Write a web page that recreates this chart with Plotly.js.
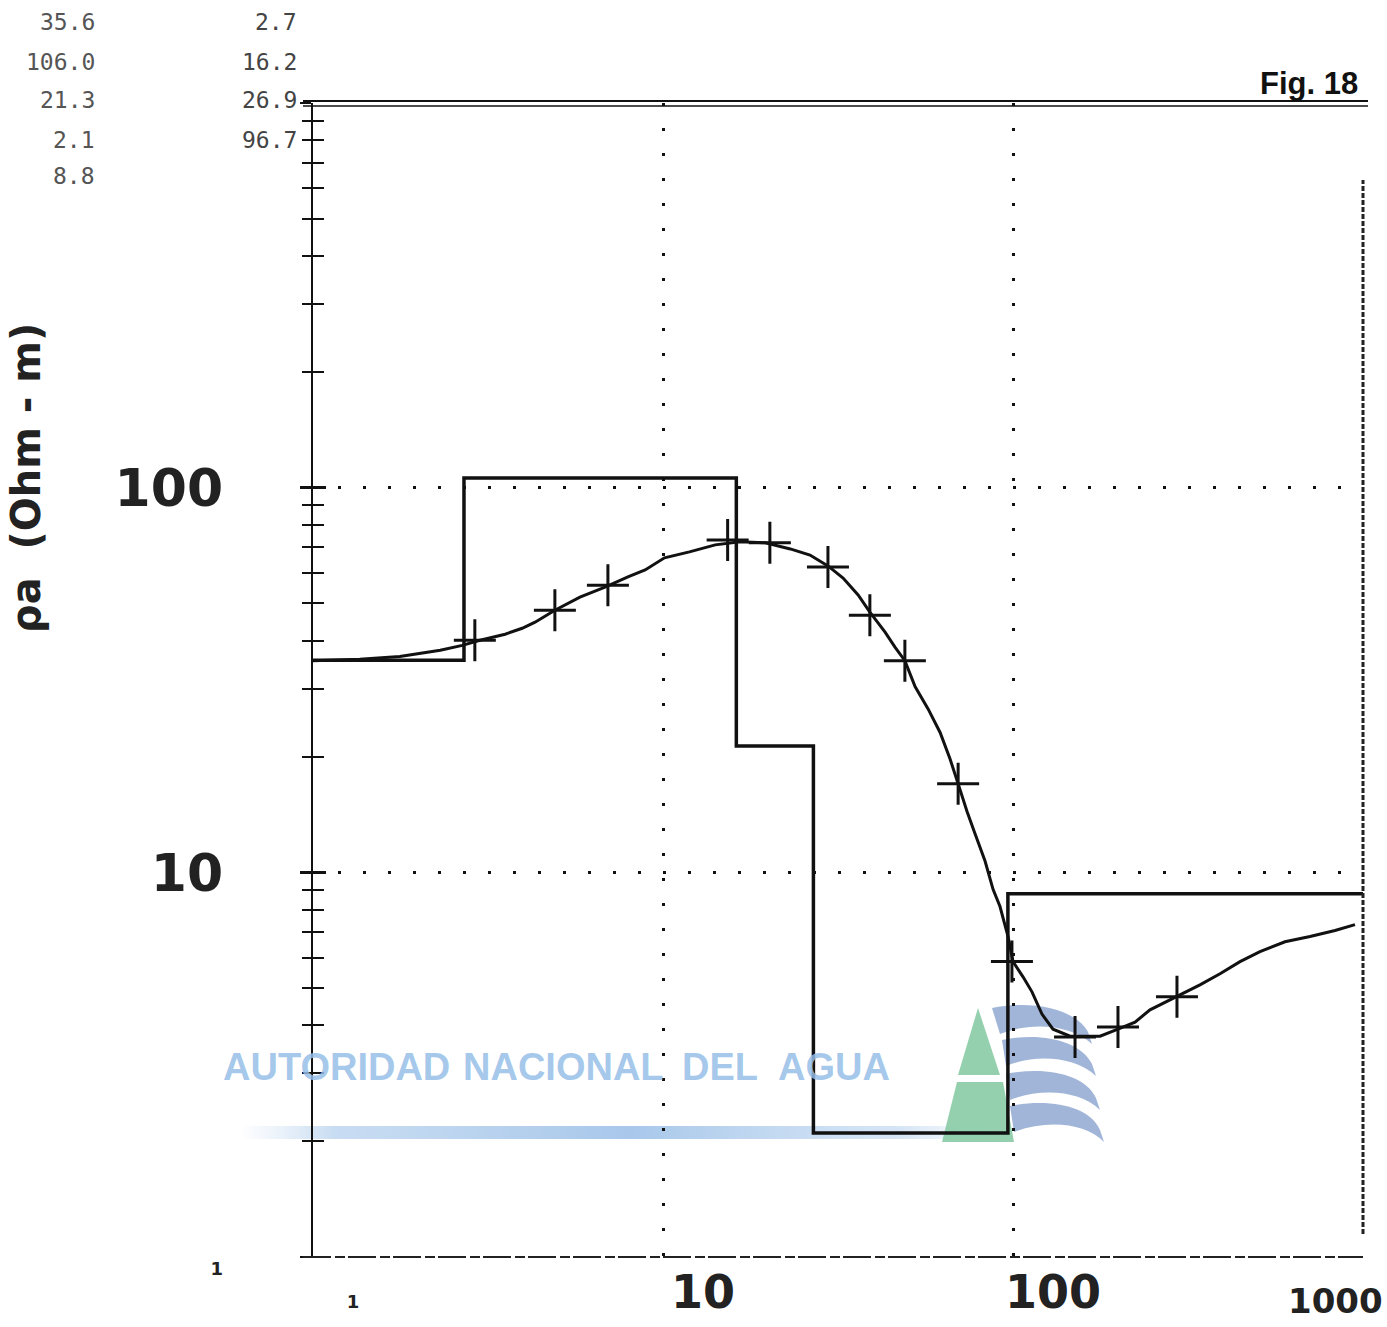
<!DOCTYPE html>
<html>
<head>
<meta charset="utf-8">
<script src="https://cdn.plot.ly/plotly-3.0.1.min.js"></script>
<style>
  html, body { margin: 0; padding: 0; background: #fff; }
  #chart { width: 1387px; height: 1327px; }
</style>
</head>
<body>
<div id="chart"></div>
<script>
// ---- Layer model (resistivity in ohm-m, depth to bottom of layer in m) ----
const layerRho = [35.6, 106.0, 21.3, 2.1, 8.8];
const layerDepth = [2.7, 16.2, 26.9, 96.7];

// ---- Calculated apparent resistivity curve (AB/2, rho_a) ----
const curveAB = [1.00, 1.36, 1.77, 2.31, 2.67, 3.00, 3.54, 3.96, 4.31, 4.91, 5.79, 6.83, 7.94, 8.89,
  10.1, 11.9, 14.1, 16.6, 19.6, 23.1, 26.3, 29.6, 32.7, 36.1, 39.0, 43.1, 46.0, 49.1, 52.5, 57.2,
  61.9, 66.1, 69.7, 73.9, 77.9, 83.2, 87.7, 91.8, 96.8, 100, 106.8, 113.3, 121.0, 130.1, 145.6,
  177.3, 199.5, 223.2, 246.3, 294.1, 342.1, 390.4, 445.3, 507.8, 598.6, 705.8, 831.8, 948.7];
const curveRho = [35.5, 35.8, 36.4, 37.8, 38.9, 40.1, 41.6, 43.1, 44.7, 48.0, 51.9, 55.1, 58.6, 61.1,
  65.7, 68.1, 71.0, 72.3, 71.9, 69.3, 66.8, 62.6, 58.2, 52.6, 47.5, 42.1, 38.5, 35.5, 30.4, 26.6,
  23.1, 19.7, 17.0, 14.4, 12.6, 10.7, 9.03, 8.15, 6.81, 5.86, 5.35, 4.89, 4.28, 3.91, 3.75,
  3.75, 3.91, 4.08, 4.39, 4.75, 5.10, 5.45, 5.86, 6.22, 6.60, 6.81, 7.06, 7.31];

// ---- Field measurements (AB/2, rho_a) ----
const fieldAB = [2.90, 4.91, 6.96, 15.3, 20.2, 29.6, 39.0, 49.1, 69.7, 99.3, 150.4, 199.5, 294.1];
const fieldRho = [40.1, 48.0, 55.8, 73.1, 71.9, 62.2, 46.6, 35.5, 17.0, 5.86, 3.73, 3.96, 4.75];

// ---- Axis ticks ----
const xTickVals = [1, 10, 100, 1000];
const xTickText = ['<span style="font-size:18px">1</span>', '10', '100', ''];
const xEndLabel = '1000';
const yTickVals = [1, 10, 100, 1000];
const yTickText = ['<span style="font-size:18px">1</span>', '10', '100', ''];
const yMinorVals = [];
[1, 10, 100].forEach(d => { for (let k = 2; k <= 9; k++) yMinorVals.push(k * d); });

// ---- Header texts ----
const figLabel = 'Fig. 18';
const yTitle = 'ρa  (Ohm - m)';
const watermarkWords = ['AUTORIDAD', 'NACIONAL', 'DEL', 'AGUA'];

// Build model step line
const modelX = [1], modelY = [layerRho[0]];
layerDepth.forEach((d, i) => {
  modelX.push(d, d);
  modelY.push(layerRho[i], layerRho[i + 1]);
});
modelX.push(1000); modelY.push(layerRho[layerRho.length - 1]);

const traces = [
  { x: modelX, y: modelY, type: 'scatter', mode: 'lines',
    line: { color: '#111', width: 3.5 }, hoverinfo: 'skip', showlegend: false },
  { x: curveAB, y: curveRho, type: 'scatter', mode: 'lines',
    line: { color: '#111', width: 3 }, showlegend: false },
  { x: fieldAB, y: fieldRho, type: 'scatter', mode: 'markers',
    marker: { symbol: 'cross-thin', size: 30, color: '#111', line: { color: '#111', width: 3 } },
    showlegend: false },
  { x: [1], y: [1], xaxis: 'x', yaxis: 'y2', mode: 'markers', marker: { opacity: 0 },
    hoverinfo: 'skip', showlegend: false }
];

const PX = p => (p - 313) / 1050;
const PY = p => (1257 - p) / 1154;

const annotations = [];
const rowY = [22, 62, 100, 140, 176];
layerRho.forEach((r, i) => annotations.push({
  xref: 'paper', yref: 'paper', x: PX(97), y: PY(rowY[i]), xanchor: 'right', yanchor: 'middle',
  text: r.toFixed(1), showarrow: false, font: { family: 'DejaVu Sans Mono', size: 23, color: '#555' }
}));
layerDepth.forEach((d, i) => annotations.push({
  xref: 'paper', yref: 'paper', x: PX(299), y: PY(rowY[i]), xanchor: 'right', yanchor: 'middle',
  text: d.toFixed(1), showarrow: false, font: { family: 'DejaVu Sans Mono', size: 23, color: '#444' }
}));
annotations.push({
  xref: 'paper', yref: 'paper', x: PX(1360), y: PY(84), xanchor: 'right', yanchor: 'middle',
  text: '<b>' + figLabel + '</b>', showarrow: false,
  font: { family: 'Liberation Sans, Arial', size: 31, color: '#111' }
});
annotations.push({
  xref: 'paper', yref: 'paper', x: PX(26), y: PY(478), xanchor: 'center', yanchor: 'middle',
  text: '<b>' + yTitle + '</b>', textangle: -90, showarrow: false,
  font: { family: 'DejaVu Sans', size: 40, color: '#222' }
});
annotations.push({
  xref: 'x', yref: 'paper', x: 3, y: 0, xanchor: 'right', yanchor: 'top', yshift: -22, xshift: 22,
  text: xEndLabel, showarrow: false,
  font: { family: 'DejaVu Sans', size: 34, color: '#222', weight: 'bold' }
});
const wmX = [336, 563, 720, 834];
watermarkWords.forEach((w, i) => annotations.push({
  xref: 'paper', yref: 'paper', x: PX(wmX[i]), y: PY(1067), xanchor: 'center', yanchor: 'middle',
  text: '<b>' + w + '</b>', showarrow: false,
  font: { family: 'Liberation Sans, Arial', size: 38, color: 'rgba(150,190,232,0.85)' }
}));

const shapes = [
  { type: 'line', xref: 'paper', yref: 'paper', x0: PX(303), x1: PX(1368), y0: PY(101), y1: PY(101), line: { color: '#111', width: 2 } },
  { type: 'line', xref: 'paper', yref: 'paper', x0: PX(303), x1: PX(1368), y0: PY(106), y1: PY(106), line: { color: '#111', width: 1.5 } },
  { type: 'line', xref: 'paper', yref: 'paper', x0: PX(303), x1: 1, y0: 0, y1: 0, line: { color: '#222', width: 2, dash: '28px,4px,10px,3px' } },
  { type: 'line', xref: 'paper', yref: 'paper', x0: 1, x1: 1, y0: 0.02, y1: PY(180), line: { color: '#222', width: 3, dash: '5px,2px' } }
];

const svg = `<svg xmlns="http://www.w3.org/2000/svg" width="880" height="150" viewBox="0 0 880 150">
<defs><linearGradient id="g" x1="0" x2="1" y1="0" y2="0">
<stop offset="0" stop-color="#c4dbf2" stop-opacity="0"/>
<stop offset="0.12" stop-color="#b4d0ee" stop-opacity="0.8"/>
<stop offset="0.5" stop-color="#9fc2e9" stop-opacity="1"/>
<stop offset="0.85" stop-color="#c0d8f1" stop-opacity="0.7"/>
<stop offset="1" stop-color="#e0ecf8" stop-opacity="0"/>
</linearGradient></defs>
<rect x="10" y="126" width="780" height="13" rx="6" fill="url(#g)"/>
<path d="M748,8 L728,75 L770,75 Z" fill="#7cc69b" opacity="0.9"/>
<path d="M727,82 L773,82 L784,142 L712,142 Z" fill="#7cc69b" opacity="0.9"/>
<g fill="#6a8cc2" opacity="0.7">
<path d="M762,8 C800,0 845,8 858,32 L862,44 C840,24 800,22 770,34 Z"/>
<path d="M772,40 C810,32 850,40 862,64 L866,76 C845,56 805,54 776,66 Z"/>
<path d="M776,74 C815,66 855,74 866,98 L870,110 C850,90 810,88 780,100 Z"/>
<path d="M780,106 C820,98 860,106 870,130 L874,142 C855,122 815,120 784,132 Z"/>
</g></svg>`;
const images = [{
  source: 'data:image/svg+xml;base64,' + btoa(svg),
  xref: 'paper', yref: 'paper', x: PX(230), y: PY(1000), sizex: 880 / 1050, sizey: 150 / 1154,
  xanchor: 'left', yanchor: 'top', sizing: 'stretch', layer: 'below', opacity: 0.9
}];

const layout = {
  width: 1387, height: 1327,
  margin: { l: 313, r: 24, t: 103, b: 70 },
  paper_bgcolor: '#fff', plot_bgcolor: 'rgba(0,0,0,0)',
  showlegend: false,
  xaxis: {
    type: 'log', range: [0, 3], autorange: false,
    tickmode: 'array', tickvals: xTickVals, ticktext: xTickText,
    ticks: '', showline: false, zeroline: false,
    showgrid: true, gridcolor: '#111', gridwidth: 3, griddash: '3px,22px',
    tickfont: { family: 'DejaVu Sans', size: 46, color: '#222', weight: 'bold' },
    ticklabelshift: 40, ticklabelstandoff: 4
  },
  yaxis: {
    type: 'log', range: [0, 3], autorange: false,
    tickmode: 'array', tickvals: yTickVals, ticktext: yTickText,
    ticks: 'outside', ticklen: 11, tickwidth: 2.5, tickcolor: '#111',
    minor: { tickvals: yMinorVals, ticks: 'outside', ticklen: 9, tickwidth: 2, tickcolor: '#111', showgrid: false },
    showline: true, linecolor: '#111', linewidth: 2.5, zeroline: false,
    showgrid: true, gridcolor: '#111', gridwidth: 3, griddash: '3px,22px',
    tickfont: { family: 'DejaVu Sans', size: 52, color: '#222', weight: 'bold' },
    ticklabelstandoff: 66
  },
  yaxis2: {
    type: 'log', range: [0, 3], autorange: false, overlaying: 'y', side: 'left',
    tickmode: 'array', tickvals: yTickVals, showticklabels: false,
    ticks: 'inside', ticklen: 13, tickwidth: 2.5, tickcolor: '#111',
    minor: { tickvals: yMinorVals, ticks: 'inside', ticklen: 11, tickwidth: 2, tickcolor: '#111', showgrid: false },
    showline: false, showgrid: false, zeroline: false
  },
  annotations, shapes, images
};

Plotly.newPlot('chart', traces, layout, { staticPlot: true, displayModeBar: false });
</script>
</body>
</html>
